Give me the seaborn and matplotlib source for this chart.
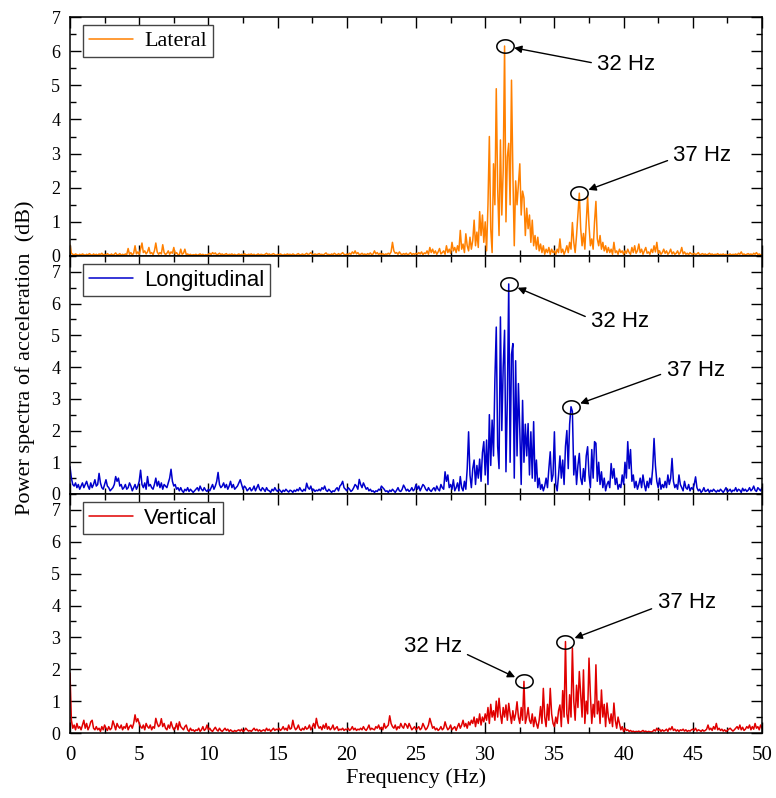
import numpy as np
import pandas as pd
import matplotlib
matplotlib.use("Agg")
import matplotlib.pyplot as plt
from matplotlib.ticker import MultipleLocator
import seaborn as sns

# ---------------- data (0.1 Hz resolution, 0 .. 50 Hz) ----------------
freq_step = 0.1

lateral = [
    0.32,0.08,0.05,0.03,0.06,0.04,0.02,0.05,0.03,0.06,
    0.04,0.02,0.05,0.03,0.07,0.04,0.02,0.06,0.03,0.05,
    0.02,0.06,0.04,0.08,0.03,0.05,0.02,0.07,0.04,0.03,
    0.06,0.02,0.05,0.09,0.03,0.04,0.07,0.02,0.05,0.03,
    0.06,0.04,0.22,0.05,0.10,0.03,0.08,0.30,0.06,0.12,
    0.05,0.20,0.38,0.10,0.15,0.06,0.12,0.25,0.07,0.10,
    0.04,0.15,0.38,0.12,0.05,0.10,0.06,0.33,0.10,0.04,
    0.08,0.15,0.05,0.12,0.08,0.25,0.06,0.10,0.04,0.03,
    0.20,0.05,0.08,0.20,0.04,0.06,0.03,0.05,0.02,0.04,
    0.03,0.05,0.02,0.04,0.06,0.03,0.05,0.02,0.04,0.03,
    0.05,0.08,0.04,0.10,0.06,0.09,0.03,0.05,0.08,0.04,
    0.06,0.03,0.05,0.07,0.02,0.05,0.04,0.06,0.03,0.05,
    0.02,0.04,0.06,0.03,0.05,0.02,0.07,0.04,0.03,0.05,
    0.04,0.06,0.03,0.05,0.02,0.04,0.06,0.03,0.05,0.04,
    0.03,0.05,0.08,0.04,0.06,0.03,0.05,0.07,0.04,0.02,
    0.05,0.03,0.06,0.04,0.02,0.05,0.03,0.06,0.04,0.05,
    0.03,0.06,0.04,0.02,0.05,0.07,0.03,0.04,0.06,0.03,
    0.05,0.08,0.04,0.06,0.10,0.05,0.03,0.06,0.04,0.05,
    0.07,0.04,0.05,0.03,0.06,0.09,0.04,0.05,0.03,0.06,
    0.04,0.08,0.05,0.03,0.07,0.04,0.06,0.10,0.05,0.03,
    0.06,0.04,0.08,0.05,0.12,0.07,0.15,0.06,0.10,0.04,
    0.05,0.08,0.04,0.06,0.03,0.07,0.05,0.09,0.04,0.06,
    0.15,0.06,0.10,0.04,0.08,0.05,0.07,0.03,0.06,0.05,
    0.08,0.05,0.12,0.40,0.15,0.08,0.10,0.05,0.12,0.06,
    0.04,0.07,0.05,0.08,0.03,0.06,0.10,0.04,0.07,0.05,
    0.08,0.05,0.10,0.06,0.12,0.04,0.09,0.07,0.15,0.05,
    0.25,0.10,0.20,0.08,0.15,0.05,0.12,0.22,0.06,0.10,
    0.15,0.05,0.30,0.10,0.20,0.08,0.40,0.15,0.25,0.10,
    0.30,0.15,0.75,0.20,0.35,0.10,0.65,0.30,0.15,0.55,
    0.20,0.45,1.05,0.30,0.70,0.25,1.30,0.60,1.20,0.40,
    1.00,0.15,1.50,3.50,0.80,0.10,2.70,1.50,4.90,2.00,
    0.60,3.40,1.20,2.50,6.15,1.00,2.90,3.30,1.50,5.15,
    2.40,0.30,2.20,1.50,2.10,2.70,1.20,1.90,1.70,0.60,
    1.40,0.80,1.20,0.40,1.05,0.30,0.60,0.20,0.55,0.15,
    0.35,0.10,0.30,0.05,0.20,0.10,0.25,0.05,0.20,0.10,
    0.15,0.05,0.20,0.10,0.50,0.10,0.20,0.05,0.15,0.30,
    0.10,0.40,0.20,0.98,0.40,0.10,0.60,1.20,1.84,0.80,
    0.30,0.66,0.20,1.00,1.74,0.90,0.30,0.50,0.20,1.00,
    1.60,0.50,0.30,0.60,0.20,0.40,0.15,0.30,0.10,0.25,
    0.10,0.20,0.05,0.40,0.10,0.15,0.05,0.20,0.10,0.15,
    0.05,0.15,0.08,0.20,0.10,0.05,0.25,0.10,0.30,0.08,
    0.15,0.35,0.10,0.20,0.05,0.15,0.25,0.08,0.12,0.05,
    0.20,0.10,0.30,0.12,0.40,0.08,0.15,0.05,0.10,0.20,
    0.08,0.15,0.05,0.10,0.20,0.06,0.12,0.05,0.08,0.15,
    0.05,0.10,0.25,0.06,0.12,0.05,0.08,0.04,0.10,0.06,
    0.05,0.08,0.04,0.06,0.10,0.03,0.05,0.07,0.04,0.06,
    0.03,0.05,0.08,0.04,0.06,0.03,0.05,0.04,0.07,0.03,
    0.05,0.04,0.06,0.03,0.05,0.02,0.04,0.06,0.03,0.05,
    0.04,0.06,0.03,0.08,0.05,0.12,0.04,0.06,0.03,0.05,
    0.07,0.04,0.06,0.03,0.08,0.05,0.10,0.04,0.06,0.03,
    0.05,
]

longitudinal = [
    0.86,0.50,0.30,0.25,0.35,0.20,0.30,0.15,0.25,0.35,
    0.20,0.30,0.40,0.25,0.15,0.35,0.20,0.30,0.45,0.25,
    0.30,0.65,0.35,0.20,0.15,0.30,0.45,0.25,0.20,0.10,
    0.15,0.20,0.30,0.55,0.40,0.50,0.25,0.30,0.15,0.20,
    0.30,0.15,0.20,0.35,0.25,0.10,0.20,0.30,0.15,0.25,
    0.40,0.75,0.30,0.20,0.35,0.15,0.55,0.25,0.30,0.20,
    0.15,0.30,0.50,0.25,0.40,0.20,0.35,0.15,0.30,0.25,
    0.20,0.35,0.50,0.78,0.40,0.25,0.30,0.15,0.20,0.10,
    0.20,0.10,0.05,0.15,0.10,0.20,0.08,0.15,0.10,0.05,
    0.10,0.15,0.20,0.10,0.25,0.15,0.10,0.20,0.12,0.08,
    0.15,0.10,0.20,0.30,0.15,0.25,0.40,0.68,0.30,0.20,
    0.25,0.35,0.20,0.30,0.15,0.25,0.40,0.20,0.30,0.15,
    0.20,0.25,0.35,0.45,0.30,0.15,0.25,0.20,0.10,0.15,
    0.20,0.10,0.15,0.25,0.10,0.20,0.30,0.15,0.10,0.20,
    0.15,0.08,0.20,0.12,0.10,0.05,0.15,0.10,0.20,0.12,
    0.08,0.15,0.10,0.05,0.12,0.08,0.15,0.10,0.06,0.12,
    0.10,0.05,0.12,0.08,0.15,0.10,0.20,0.12,0.08,0.15,
    0.10,0.34,0.20,0.15,0.25,0.10,0.15,0.08,0.12,0.10,
    0.15,0.10,0.20,0.15,0.25,0.12,0.08,0.15,0.10,0.05,
    0.10,0.08,0.15,0.20,0.10,0.25,0.30,0.40,0.20,0.15,
    0.10,0.20,0.15,0.08,0.12,0.20,0.30,0.25,0.15,0.46,
    0.30,0.20,0.35,0.25,0.15,0.20,0.10,0.15,0.08,0.10,
    0.05,0.10,0.08,0.15,0.12,0.25,0.20,0.15,0.08,0.10,
    0.05,0.12,0.08,0.15,0.10,0.05,0.12,0.20,0.10,0.08,
    0.15,0.28,0.20,0.10,0.15,0.08,0.12,0.20,0.10,0.15,
    0.30,0.15,0.25,0.10,0.20,0.30,0.25,0.15,0.10,0.20,
    0.12,0.08,0.15,0.20,0.10,0.25,0.15,0.10,0.30,0.20,
    0.15,0.70,0.40,0.60,0.20,0.30,0.15,0.45,0.10,0.20,
    0.35,0.10,0.55,0.20,0.10,0.40,0.15,0.80,1.96,0.60,
    0.20,0.80,1.07,0.30,0.90,0.50,1.10,0.40,1.30,1.65,
    0.60,1.70,0.30,2.50,0.90,2.33,1.20,3.60,5.26,1.50,
    0.80,5.58,2.00,4.00,5.16,0.70,3.00,6.62,1.00,4.40,
    4.74,0.50,4.20,1.20,3.48,2.00,0.30,2.95,1.00,2.20,
    1.20,2.22,0.60,1.96,0.50,2.28,0.40,1.07,0.20,0.50,
    0.15,0.30,0.10,0.25,0.50,0.20,0.80,1.33,0.40,0.60,
    1.96,0.30,0.10,0.60,1.20,0.50,1.07,0.30,1.50,2.00,
    0.80,2.20,2.75,2.60,0.60,1.20,0.30,0.90,1.28,0.50,
    0.30,0.80,0.40,1.20,1.49,0.60,0.20,1.40,0.50,1.65,
    1.60,0.40,1.00,0.30,0.70,0.20,0.50,0.10,0.30,0.40,
    0.20,0.96,0.50,0.80,0.30,0.50,0.15,0.30,0.20,0.60,
    0.30,1.00,0.50,1.65,0.80,1.40,0.40,0.60,0.20,0.40,
    0.15,0.30,0.50,0.20,0.60,0.30,0.10,0.40,0.20,0.50,
    0.30,0.80,1.75,0.90,0.40,0.20,0.50,0.15,0.30,0.20,
    0.40,0.20,0.60,0.30,0.50,1.12,0.40,0.20,0.30,0.15,
    0.60,0.30,0.20,0.10,0.40,0.20,0.15,0.30,0.10,0.20,
    0.15,0.30,0.54,0.20,0.10,0.15,0.05,0.10,0.20,0.08,
    0.10,0.15,0.05,0.12,0.08,0.15,0.10,0.06,0.12,0.08,
    0.15,0.10,0.05,0.12,0.20,0.08,0.10,0.15,0.06,0.12,
    0.10,0.20,0.08,0.15,0.12,0.05,0.18,0.10,0.15,0.08,
    0.12,0.20,0.10,0.15,0.25,0.12,0.08,0.20,0.15,0.10,
    0.20,
]

vertical = [
    1.88,0.40,0.15,0.25,0.10,0.30,0.15,0.20,0.10,0.25,
    0.40,0.15,0.30,0.10,0.20,0.35,0.40,0.15,0.10,0.20,
    0.10,0.15,0.05,0.20,0.10,0.25,0.15,0.08,0.20,0.10,
    0.15,0.38,0.25,0.10,0.30,0.20,0.15,0.25,0.10,0.20,
    0.15,0.30,0.10,0.20,0.25,0.15,0.30,0.57,0.35,0.45,
    0.30,0.20,0.15,0.25,0.10,0.30,0.20,0.15,0.25,0.10,
    0.20,0.15,0.46,0.30,0.20,0.25,0.45,0.20,0.30,0.15,
    0.10,0.25,0.15,0.35,0.20,0.10,0.15,0.30,0.10,0.35,
    0.20,0.15,0.10,0.20,0.25,0.10,0.05,0.15,0.08,0.10,
    0.05,0.10,0.08,0.15,0.05,0.10,0.20,0.08,0.12,0.25,
    0.10,0.15,0.08,0.05,0.12,0.18,0.10,0.06,0.15,0.08,
    0.05,0.10,0.15,0.08,0.12,0.05,0.10,0.06,0.04,0.08,
    0.05,0.08,0.10,0.06,0.12,0.05,0.08,0.15,0.10,0.06,
    0.08,0.05,0.10,0.15,0.08,0.12,0.06,0.10,0.05,0.08,
    0.10,0.06,0.15,0.08,0.12,0.05,0.10,0.15,0.08,0.12,
    0.10,0.15,0.08,0.12,0.20,0.10,0.15,0.08,0.25,0.12,
    0.15,0.40,0.20,0.10,0.15,0.25,0.12,0.08,0.15,0.10,
    0.20,0.12,0.15,0.25,0.10,0.18,0.30,0.15,0.46,0.25,
    0.15,0.20,0.10,0.25,0.15,0.30,0.12,0.20,0.10,0.15,
    0.25,0.10,0.15,0.20,0.08,0.12,0.10,0.15,0.08,0.12,
    0.10,0.15,0.08,0.12,0.20,0.10,0.15,0.08,0.12,0.10,
    0.15,0.10,0.20,0.12,0.08,0.15,0.25,0.10,0.15,0.12,
    0.10,0.20,0.15,0.25,0.12,0.18,0.10,0.30,0.15,0.20,
    0.25,0.54,0.30,0.20,0.15,0.25,0.10,0.20,0.15,0.30,
    0.20,0.15,0.30,0.25,0.15,0.30,0.20,0.10,0.15,0.20,
    0.10,0.15,0.20,0.10,0.15,0.30,0.20,0.10,0.15,0.25,
    0.46,0.30,0.15,0.20,0.10,0.15,0.08,0.12,0.20,0.10,
    0.15,0.35,0.20,0.10,0.15,0.25,0.10,0.15,0.20,0.08,
    0.20,0.30,0.15,0.25,0.40,0.20,0.30,0.15,0.35,0.25,
    0.40,0.30,0.50,0.20,0.45,0.30,0.60,0.25,0.50,0.35,
    0.60,0.40,0.80,0.30,0.90,0.50,0.70,0.40,1.00,0.50,
    1.09,0.60,0.30,0.80,0.50,0.88,0.40,0.93,0.60,0.30,
    0.70,0.40,0.60,0.98,0.50,0.30,0.80,0.40,1.62,0.30,
    0.50,0.80,0.40,0.30,0.60,0.20,0.50,0.30,0.15,0.40,
    0.83,0.30,1.40,0.50,0.20,0.90,0.40,1.40,0.60,0.30,
    0.20,0.50,0.30,0.70,0.88,0.20,1.33,0.50,2.87,0.60,
    0.30,1.20,0.50,2.67,1.00,0.40,1.50,0.80,1.93,1.20,
    0.50,1.98,0.30,1.00,0.60,2.35,1.20,0.30,0.90,0.50,
    2.14,0.60,1.00,0.30,1.35,0.50,0.90,0.20,0.94,0.50,
    0.30,0.60,0.20,0.94,0.40,0.15,0.50,0.30,0.10,0.20,
    0.05,0.15,0.08,0.10,0.05,0.08,0.04,0.06,0.03,0.05,
    0.04,0.06,0.03,0.05,0.08,0.04,0.06,0.03,0.05,0.04,
    0.03,0.05,0.10,0.06,0.15,0.08,0.12,0.05,0.10,0.06,
    0.08,0.12,0.05,0.15,0.10,0.20,0.08,0.12,0.06,0.10,
    0.05,0.10,0.08,0.12,0.06,0.10,0.05,0.08,0.06,0.10,
    0.12,0.08,0.15,0.06,0.10,0.08,0.05,0.10,0.06,0.08,
    0.12,0.25,0.10,0.15,0.08,0.20,0.12,0.30,0.10,0.15,
    0.08,0.12,0.06,0.10,0.05,0.08,0.12,0.15,0.10,0.06,
    0.10,0.15,0.20,0.12,0.25,0.10,0.18,0.08,0.12,0.20,
    0.15,0.25,0.10,0.20,0.12,0.30,0.15,0.20,0.10,0.25,
    0.15,
]

series_names = ["Lateral", "Longitudinal", "Vertical"]
series_values = [lateral, longitudinal, vertical]
series_colors = ["#FF8000", "#0000CC", "#E00000"]
legend_fonts = ["Liberation Serif", "Liberation Sans", "Liberation Sans"]

# annotated peaks: (frequency of marked peak, label, label x, label y)
peak_freqs = [[31.4, 36.8], [31.7, 36.2], [32.8, 35.8]]
peak_labels = [["32 Hz", "37 Hz"], ["32 Hz", "37 Hz"], ["32 Hz", "37 Hz"]]
label_pos = [[(38.1, 5.6), (43.6, 2.95)],
             [(37.65, 5.45), (43.1, 3.9)],
             [(24.1, 2.7), (42.45, 4.1)]]
label_ha = [["left", "left"], ["left", "left"], ["left", "left"]]
arrow_rel = [[(0.0, 0.55), (0.0, 0.35)],
             [(0.0, 0.6), (0.0, 0.4)],
             [(1.05, 0.2), (0.0, 0.3)]]
ylims = [7.0, 7.5, 7.5]

# ---------------- figure ----------------
sns.set_theme(style="ticks")
plt.rcParams["font.family"] = ["Liberation Serif", "DejaVu Serif"]
plt.rcParams["axes.linewidth"] = 1.1
for key in ["text.color", "axes.labelcolor", "xtick.color", "ytick.color", "axes.edgecolor"]:
    plt.rcParams[key] = "black"

fig = plt.figure(figsize=(7.76, 7.98), dpi=100)
left, right = 70 / 776, 762 / 776
tops = [17, 256, 494]
bots = [256, 494, 733]
axes = []
for i in range(3):
    b = 1 - bots[i] / 798
    t = 1 - tops[i] / 798
    ax = fig.add_axes([left, b, right - left, t - b])
    axes.append(ax)

theta = np.linspace(0, 2 * np.pi, 60)
ellipse_marker = np.column_stack([1.3 * np.cos(theta), np.sin(theta)])

for i, ax in enumerate(axes):
    vals = np.asarray(series_values[i])
    f = np.arange(len(vals)) * freq_step
    df = pd.DataFrame({"Frequency": f, "Power": vals})
    sns.lineplot(data=df, x="Frequency", y="Power", ax=ax, color=series_colors[i],
                 lw=1.1, estimator=None, sort=False, label=series_names[i])
    ax.set_xlim(0, 50)
    ax.set_ylim(0, ylims[i])
    ax.xaxis.set_major_locator(MultipleLocator(5))
    ax.xaxis.set_minor_locator(MultipleLocator(2.5))
    ax.yaxis.set_major_locator(MultipleLocator(1))
    ax.yaxis.set_minor_locator(MultipleLocator(0.5))
    ax.tick_params(which="both", direction="in", top=True, right=True,
                   color="black", width=1.0)
    ax.tick_params(which="major", length=8)
    ax.tick_params(which="minor", length=4)
    ax.tick_params(axis="y", labelsize=13, pad=7)
    ax.tick_params(axis="x", labelsize=15, pad=9)
    ax.set_ylabel("")
    ax.set_xlabel("")
    if i < 2:
        ax.tick_params(axis="x", labelbottom=False)

    leg = ax.legend(loc="upper left", bbox_to_anchor=(0.019, 0.965),
                    borderaxespad=0, fancybox=False, framealpha=1,
                    edgecolor="#444444", handlelength=2.0, handletextpad=0.5,
                    borderpad=0.25, prop={"family": legend_fonts[i], "size": 16})
    leg.get_frame().set_linewidth(1.0)

    # peak markers and annotations
    for j, pf in enumerate(peak_freqs[i]):
        k = int(round(pf / freq_step))
        pv = vals[k]
        ax.plot([f[k]], [pv], linestyle="none", marker=ellipse_marker,
                markersize=12.5, markerfacecolor="none", markeredgecolor="black",
                markeredgewidth=1.1, zorder=5)
        tx, ty = label_pos[i][j]
        ax.annotate(peak_labels[i][j], xy=(f[k], pv), xytext=(tx, ty),
                    textcoords="data", ha=label_ha[i][j], va="center",
                    fontsize=16, family="Liberation Sans",
                    arrowprops=dict(arrowstyle="-|>", color="black", lw=1.0,
                                    shrinkA=2, shrinkB=7, mutation_scale=11,
                                    relpos=arrow_rel[i][j]), zorder=6)

axes[2].set_xlabel("Frequency (Hz)", fontsize=16, labelpad=3)
fig.text(25 / 776, 1 - 358 / 798, "Power spectra of acceleration  (dB)",
         rotation=90, ha="center", va="center", fontsize=16)

fig.savefig("out.png", dpi=100)
